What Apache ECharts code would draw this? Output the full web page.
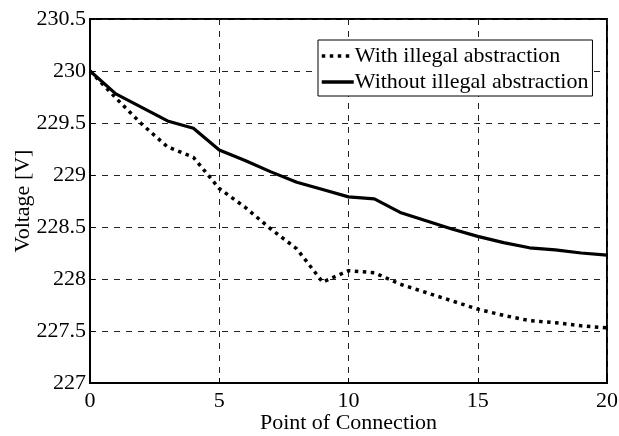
<!DOCTYPE html>
<html><head><meta charset="utf-8">
<script src="https://cdn.jsdelivr.net/npm/echarts@6/dist/echarts.min.js"></script>
<style>html,body{margin:0;padding:0;background:#fff}#c{width:619px;height:436px}</style>
</head><body><div id="c"></div>
<script>
var points = [0,1,2,3,4,5,6,7,8,9,10,11,12,13,14,15,16,17,18,19,20];
var withIllegal = [230,229.74,229.49,229.27,229.17,228.87,228.69,228.48,228.29,227.97,228.08,228.06,227.95,227.87,227.79,227.71,227.65,227.6,227.58,227.55,227.53];
var withoutIllegal = [230,229.78,229.65,229.52,229.45,229.24,229.14,229.03,228.93,228.86,228.79,228.77,228.64,228.56,228.48,228.41,228.35,228.3,228.28,228.25,228.23];
var seriesNames = ['With illegal abstraction','Without illegal abstraction'];
var xTitle = 'Point of Connection';
var yTitle = 'Voltage [V]';

var font = 'Liberation Serif';
function pairs(arr){ return points.map(function(p,i){return [p, arr[i]];}); }
var chart = echarts.init(document.getElementById('c'), null, {renderer:'canvas'});
var gridLine = {show:true, lineStyle:{color:'#222', width:1, type:[6,6]}};
chart.setOption({
  animation:false,
  backgroundColor:'#fff',
  grid:{left:90,right:12,top:19,bottom:53,outerBoundsMode:'none',show:true,borderColor:'#000',borderWidth:2,backgroundColor:'transparent'},
  legend:{
    orient:'vertical', left:318, top:40, itemGap:4, itemWidth:32, itemHeight:20,
    itemStyle:{opacity:0},
    lineStyle:{width:3.5},
    padding:[5,4,3,2],
    borderColor:'#000', borderWidth:1, backgroundColor:'#fff',
    textStyle:{fontFamily:font, fontSize:22, color:'#000', padding:[0,0,0,-4]},
    data:[{name:seriesNames[0]},{name:seriesNames[1]}]
  },
  xAxis:{
    type:'value', min:0, max:20, interval:5,
    name:xTitle, nameLocation:'middle', nameGap:29, nameMoveOverlap:false,
    nameTextStyle:{fontFamily:font, fontSize:22, color:'#000'},
    axisLine:{show:true, onZero:false, lineStyle:{color:'#000', width:2}},
    axisTick:{show:true, inside:true, length:5, lineStyle:{color:'#000'}},
    axisLabel:{fontFamily:font, fontSize:22, color:'#000', margin:7},
    splitLine:gridLine
  },
  yAxis:{
    type:'value', min:227, max:230.5, interval:0.5,
    name:yTitle, nameLocation:'middle', nameGap:56, nameRotate:90, nameMoveOverlap:false,
    nameTextStyle:{fontFamily:font, fontSize:22, color:'#000'},
    axisLine:{show:true, lineStyle:{color:'#000', width:2}},
    axisTick:{show:true, inside:true, length:5, lineStyle:{color:'#000'}},
    axisLabel:{fontFamily:font, fontSize:22, color:'#000', margin:4},
    splitLine:gridLine
  },
  series:[
    {name:seriesNames[0], type:'line', symbol:'none', data:pairs(withIllegal),
     color:'#000', lineStyle:{color:'#000', width:3.5, type:[3.5,4.5], cap:'butt'}},
    {name:seriesNames[1], type:'line', symbol:'none', data:pairs(withoutIllegal),
     color:'#000', lineStyle:{color:'#000', width:3.2, type:'solid'}}
  ]
});
</script></body></html>
